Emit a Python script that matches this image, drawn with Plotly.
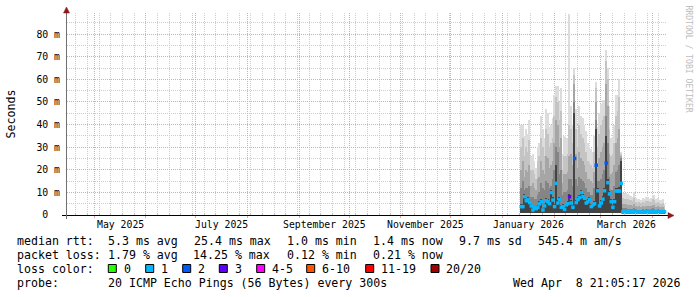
import plotly.graph_objects as go
import pandas as pd

# ---------------- data (ms) : daily bins starting 2026-01-12 ----------------
bin_start = "2026-01-12 08:00"

rtt_max = [40, 40, 35, 38, 36, 42, 26, 27, 24, 21,
           30, 32, 44, 38, 34, 47, 45, 39, 40, 43,
           53, 57, 57, 50, 56, 27, 35, 34, 34, 89,
           48, 40, 65, 47, 38, 48, 44, 43, 40, 37,
           32, 30, 29, 28, 35, 59, 39, 45, 49, 51,
           51, 73, 65, 48, 34, 34, 40, 53, 53, 60,
           28,
           9.7, 9.5, 9.6, 9.4, 9.0, 8.5, 8.0, 10.0, 7.5, 7.0,
           7.2, 6.8, 7.5, 7.0, 7.8, 8.0, 7.2, 7.5, 9.0, 8.8,
           7.0, 7.5, 6.8, 6.6, 7.0, 5.0]

rtt_p2 = [30, 34, 26, 30, 28, 33, 20, 20, 18, 16,
          24, 26, 34, 30, 26, 38, 36, 30, 32, 34,
          44, 52, 50, 42, 46, 20, 26, 26, 27, 40,
          38, 32, 62, 38, 30, 40, 36, 34, 32, 28,
          24, 23, 22, 21, 28, 56, 30, 36, 40, 42,
          44, 68, 60, 38, 26, 27, 32, 44, 46, 52,
          27,
          7.5, 7.0, 7.2, 7.0, 6.8, 6.5, 6.0, 7.5, 5.8, 5.5,
          5.6, 5.2, 5.8, 5.5, 6.0, 6.2, 5.6, 5.8, 7.0, 6.8,
          5.5, 5.8, 5.2, 5.0, 5.4, 4.0]

rtt_p3 = [20, 24, 17, 20, 19, 22, 13, 14, 12, 11,
          16, 17, 24, 20, 18, 26, 25, 21, 22, 24,
          32, 42, 40, 30, 34, 14, 18, 18, 19, 26,
          27, 22, 58, 27, 21, 28, 25, 24, 22, 19,
          16, 16, 15, 14, 19, 50, 21, 25, 28, 30,
          32, 58, 48, 27, 18, 19, 22, 32, 34, 38,
          26,
          5.0, 4.8, 4.8, 4.6, 4.5, 4.3, 4.0, 5.0, 3.9, 3.7,
          3.8, 3.5, 3.9, 3.7, 4.0, 4.2, 3.8, 3.9, 4.6, 4.5,
          3.7, 3.9, 3.5, 3.4, 3.6, 2.8]

rtt_p4 = [12, 15, 11, 12, 12, 13, 8, 8, 7, 7,
          9, 10, 14, 12, 11, 15, 14, 12, 13, 16,
          20, 30, 28, 18, 20, 9, 10, 10, 11, 16,
          16, 13, 50, 16, 13, 17, 16, 15, 14, 12,
          10, 10, 9, 9, 12, 42, 15, 15, 16, 18,
          20, 44, 32, 17, 11, 11, 13, 19, 20, 22,
          25,
          3.0, 2.9, 2.9, 2.8, 2.8, 2.7, 2.5, 3.0, 2.5, 2.4,
          2.4, 2.3, 2.5, 2.4, 2.6, 2.7, 2.4, 2.5, 2.9, 2.8,
          2.4, 2.5, 2.3, 2.2, 2.3, 2.0]

rtt_core = [5.0, 5.0, 9.5, 7.5, 8.0, 6.5, 5.0, 3.2, 4.2, 3.8,
            4.5, 6.0, 7.0, 3.2, 5.0, 7.5, 7.0, 6.0, 11.0, 8.0,
            5.0, 22.0, 6.5, 8.0, 4.5, 5.0, 3.5, 5.5, 6.0, 9.5,
            6.5, 4.5, 45.0, 6.5, 8.0, 9.0, 11.0, 9.5, 8.5, 6.5,
            7.0, 8.0, 5.0, 5.5, 6.0, 38.0, 12.0, 5.0, 6.5, 8.5,
            12.0, 35.0, 16.0, 10.5, 7.0, 4.5, 7.0, 12.0, 12.0, 12.5,
            24.0,
            1.7, 1.6, 1.7, 1.6, 1.8, 1.7, 1.6, 1.9, 1.7, 1.6,
            1.7, 1.6, 1.6, 1.7, 1.8, 1.6, 1.7, 1.6, 1.9, 1.7,
            1.6, 1.8, 1.7, 1.8, 1.9, 1.8]

rtt_min = [0.9, 0.8, 1.0, 0.9, 0.8, 0.9, 0.8, 0.7, 0.8, 0.7,
           0.8, 0.9, 0.9, 0.7, 0.8, 0.9, 0.9, 0.8, 1.0, 0.9,
           0.8, 1.0, 0.9, 0.9, 0.8, 0.8, 0.7, 0.8, 0.8, 0.9,
           0.8, 0.8, 1.1, 0.8, 0.9, 0.9, 1.0, 0.9, 0.9, 0.8,
           0.8, 0.9, 0.8, 0.8, 0.8, 1.0, 1.0, 0.8, 0.8, 0.9,
           1.0, 1.1, 1.0, 0.9, 0.8, 0.7, 0.8, 1.0, 1.0, 1.0,
           1.0,
           0.6, 0.6, 0.6, 0.5, 0.6, 0.6, 0.5, 0.6, 0.6, 0.5,
           0.6, 0.5, 0.5, 0.6, 0.6, 0.5, 0.6, 0.5, 0.6, 0.6,
           0.5, 0.6, 0.6, 0.6, 0.6, 0.6]

median_rtt = [3.7, 3.7, 8.1, 6.3, 6.8, 5.5, 4.0, 2.2, 3.2, 2.8,
              3.4, 4.9, 5.9, 2.2, 4.0, 6.3, 5.9, 5.0, 9.9, 6.6,
              3.7, 14.0, 5.3, 6.8, 3.4, 3.7, 2.5, 4.5, 5.0, 8.1,
              5.3, 3.4, 25.0, 5.5, 6.8, 7.7, 9.9, 8.1, 7.4, 5.3,
              5.8, 6.8, 3.7, 4.5, 5.0, 22.0, 10.7, 4.0, 5.3, 7.0,
              10.7, 23.0, 14.3, 9.3, 5.9, 3.4, 5.9, 10.6, 10.6, 10.6,
              14.0,
              1.3, 1.2, 1.3, 1.2, 1.4, 1.3, 1.2, 1.5, 1.3, 1.2,
              1.3, 1.2, 1.2, 1.3, 1.4, 1.2, 1.3, 1.2, 1.5, 1.3,
              1.2, 1.4, 1.3, 1.4, 1.5, 1.4]

loss_class = [1, 1, 1, 1, 1, 1, 1, 1, 1, 1,
              1, 1, 1, 1, 1, 1, 1, 1, 1, 1,
              1, 1, 1, 1, 1, 1, 1, 1, 1, 3,
              1, 1, 2, 1, 1, 1, 1, 1, 1, 1,
              1, 1, 1, 1, 1, 2, 1, 1, 1, 1,
              1, 2, 1, 1, 1, 1, 1, 1, 1, 1,
              1,
              1, 1, 1, 1, 1, 1, 1, 1, 1, 1,
              1, 1, 1, 1, 1, 1, 1, 1, 1, 1,
              1, 1, 1, 1, 1, 1]

# axis / legend texts
y_tick_vals = [0, 10, 20, 30, 40, 50, 60, 70, 80]
y_tick_text = ["0  ", "10 m", "20 m", "30 m", "40 m", "50 m", "60 m", "70 m", "80 m"]
month_labels = ["May 2025", "July 2025", "September 2025", "November 2025", "January 2026", "March 2026"]
month_label_pos = ["2025-05-16 12:00", "2025-07-16 12:00", "2025-09-16 00:00",
                   "2025-11-16 00:00", "2026-01-16 12:00", "2026-03-16 12:00"]

rtt_title = "median rtt:"
rtt_stats = ["5.3 ms avg", "25.4 ms max", "1.0 ms min", "1.4 ms now", "9.7 ms sd", "545.4 m am/s"]
loss_title = "packet loss:"
loss_stats = ["1.79 % avg", "14.25 % max", "0.12 % min", "0.21 % now"]
color_title = "loss color:"
color_names = ["0", "1", "2", "3", "4-5", "6-10", "11-19", "20/20"]
color_values = ["#26ff00", "#00b8ff", "#0059ff", "#5e00ff", "#ff00ff", "#ff5500", "#ff0000", "#a10000"]
class_keys = [0, 1, 2, 3, 4, 6, 11, 20]
probe_title = "probe:"
probe_text = "20 ICMP Echo Pings (56 Bytes) every 300s"
stamp_text = "Wed Apr  8 21:05:17 2026"

# ---------------- figure ----------------
W, H = 697, 297
L, R, T, B = 67, 30, 13, 82
PW, PH = W - L - R, H - T - B


def px(x):
    return (x - L) / PW


def py(y):
    return (T + PH - y) / PH


def nb(s):
    return s.replace(" ", "\u00a0")


dates = pd.date_range(bin_start, periods=len(median_rtt), freq="D")
day_ms = 86400000

fig = go.Figure()
layers = [(rtt_max, "#dcdcdc"), (rtt_p2, "#c4c4c4"), (rtt_p3, "#a6a6a6"),
          (rtt_p4, "#858585"), (rtt_core, "#444444")]
for top, col in layers:
    fig.add_trace(go.Bar(x=dates, y=[t - b for t, b in zip(top, rtt_min)], base=rtt_min,
                         width=day_ms, marker=dict(color=col, line=dict(width=0)),
                         hoverinfo="skip", showlegend=False))

for key, col in zip(class_keys, color_values):
    xs = [d for d, c in zip(dates, loss_class) if c == key]
    ys = [m for m, c in zip(median_rtt, loss_class) if c == key]
    if xs:
        fig.add_trace(go.Scatter(x=xs, y=ys, mode="markers",
                                 marker=dict(symbol="square", size=3.5, color=col, line=dict(width=0)),
                                 hoverinfo="skip", showlegend=False))

mono = "DejaVu Sans Mono"
ann = []
# month labels
for lab, pos in zip(month_labels, month_label_pos):
    ann.append(dict(x=pos, xref="x", y=py(224.5), yref="paper", text=nb(lab), showarrow=False,
                    xanchor="center", yanchor="middle", font=dict(family=mono, size=9.8, color="#000"),
                    borderpad=0))
# unit label
ann.append(dict(x=px(10.5), y=py(114), xref="paper", yref="paper", text="Seconds", textangle=-90,
                showarrow=False, xanchor="center", yanchor="middle",
                font=dict(family=mono, size=11.6, color="#000"), borderpad=0))
# watermark
ann.append(dict(x=px(688.5), y=py(59), xref="paper", yref="paper", text=nb("RRDTOOL / TOBI OETIKER"),
                textangle=90, showarrow=False, xanchor="center", yanchor="middle",
                font=dict(family=mono, size=8.1, color="#bdbdbd"), borderpad=0))


def text_at(x, y, s):
    ann.append(dict(x=px(x), y=py(y), xref="paper", yref="paper", text=nb(s), showarrow=False,
                    xanchor="left", yanchor="middle", font=dict(family=mono, size=11.6, color="#000"),
                    borderpad=0))


line_y = [241.5, 255.3, 269.0, 282.7]
text_at(15.5, line_y[0], rtt_title)
for s, x in zip(rtt_stats, [106.8, 192.8, 285.5, 371.8, 457.8, 536.8]):
    text_at(x, line_y[0], s)
text_at(15.5, line_y[1], loss_title)
for s, x in zip(loss_stats, [106.8, 192.2, 285.5, 371.8]):
    text_at(x, line_y[1], s)
text_at(15.5, line_y[2], color_title)
box_x = [108.3, 145.7, 182.7, 219.3, 256.7, 306.7, 365.7, 431.0]
shapes = []
for bx, name, col in zip(box_x, color_names, color_values):
    shapes.append(dict(type="rect", xref="paper", yref="paper", x0=px(bx), x1=px(bx + 8),
                       y0=py(272.5), y1=py(264.5), fillcolor=col, line=dict(color="#000", width=1)))
    text_at(bx + 14.3, line_y[2], name)
text_at(15.5, line_y[3], probe_title)
text_at(106.8, line_y[3], probe_text)
text_at(512.2, line_y[3], stamp_text)

# axis lines and arrows
shapes.append(dict(type="line", xref="paper", yref="paper", x0=px(62), x1=px(670), y0=py(215.5), y1=py(215.5),
                   line=dict(color="#000", width=1)))
shapes.append(dict(type="line", xref="paper", yref="paper", x0=px(66.5), x1=px(66.5), y0=py(219), y1=py(10),
                   line=dict(color="#707070", width=1)))
shapes.append(dict(type="path", xref="paper", yref="paper",
                   path=f"M {px(668)} {py(212.5)} L {px(674)} {py(215.5)} L {px(668)} {py(218.5)} Z",
                   fillcolor="#8b1a1a", line=dict(color="#8b1a1a", width=0.5)))
shapes.append(dict(type="path", xref="paper", yref="paper",
                   path=f"M {px(63.5)} {py(13)} L {px(66.5)} {py(7)} L {px(69.5)} {py(13)} Z",
                   fillcolor="#8b1a1a", line=dict(color="#8b1a1a", width=0.5)))

fig.update_layout(
    width=W, height=H, margin=dict(l=L, r=R, t=T, b=B, pad=0),
    paper_bgcolor="#ffffff", plot_bgcolor="#ffffff",
    barmode="overlay", bargap=0, showlegend=False,
    annotations=ann, shapes=shapes,
    xaxis=dict(type="date", range=["2025-04-14 14:38", "2026-04-09 19:26"],
               tickmode="linear", tick0="2025-05-01", dtick="M1",
               showticklabels=False, showgrid=True, gridcolor="#f0a0a0", griddash="1px,1px", gridwidth=1,
               ticks="outside", ticklen=2, tickcolor="#f0a0a0",
               minor=dict(tick0="2025-04-20", dtick=7 * day_ms, showgrid=True, gridcolor="#cdcdcd",
                          griddash="1px,1px", ticks="inside", ticklen=2, tickcolor="#c0c0c0"),
               zeroline=False, showline=False, fixedrange=True),
    yaxis=dict(range=[0, PH / 2.2614], tickmode="array", tickvals=y_tick_vals,
               ticktext=[nb(t) for t in y_tick_text],
               tickfont=dict(family=mono, size=9.8, color="#000"),
               ticks="", ticklabelstandoff=6,
               showgrid=True, gridcolor="#f0a0a0", griddash="1px,1px", gridwidth=1,
               minor=dict(dtick=5, tick0=0, showgrid=True, gridcolor="#cdcdcd", griddash="1px,1px"),
               zeroline=False, showline=False, fixedrange=True),
)

fig.write_html("out.html")
